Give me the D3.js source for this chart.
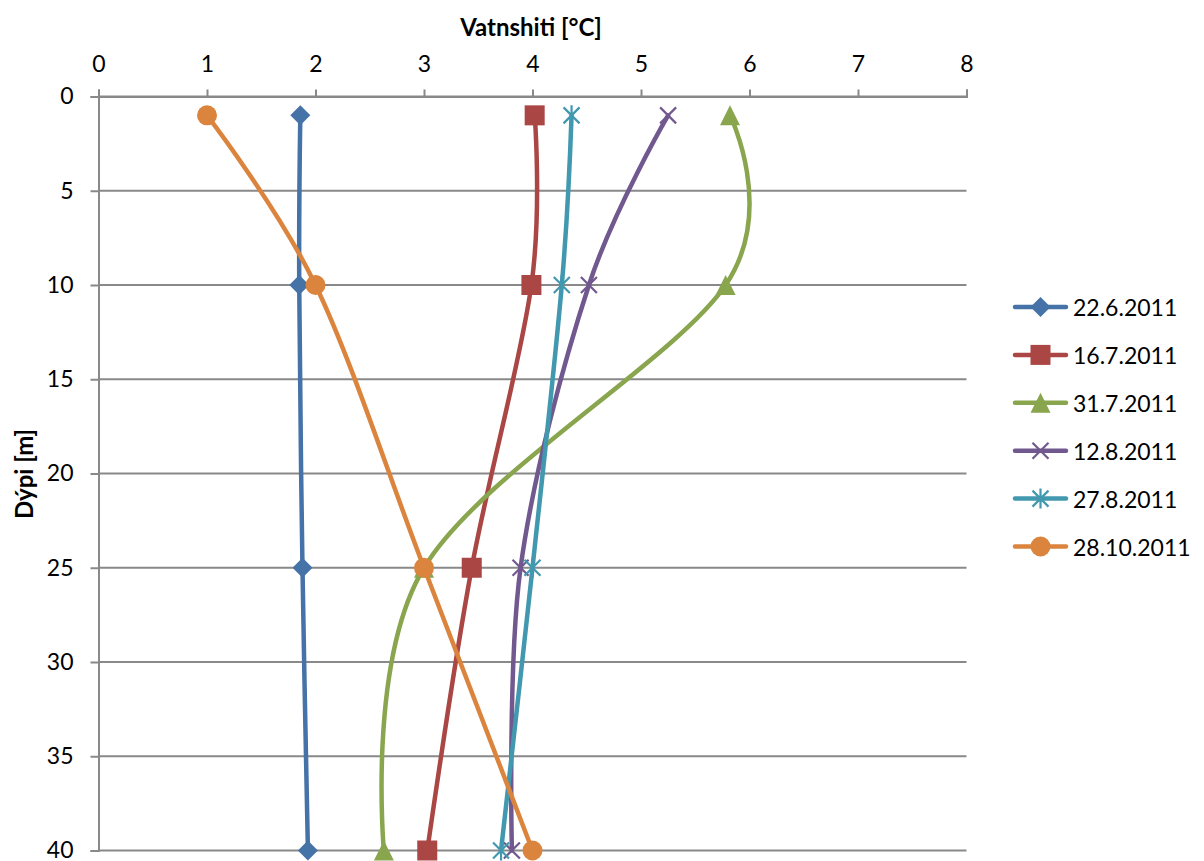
<!DOCTYPE html>
<html>
<head>
<meta charset="utf-8">
<script src="https://cdn.jsdelivr.net/npm/d3@7"></script>
<style>
  html, body { margin: 0; padding: 0; background: #ffffff; }
  svg { display: block; font-family: Lato, "Open Sans", sans-serif; }
</style>
</head>
<body>
<svg id="chart" width="1204" height="861"></svg>
<script>
// Temperature profiles: water temperature by depth for six sampling dates
const depths = [1, 10, 25, 40];
const seriesNames = ["22.6.2011", "16.7.2011", "31.7.2011", "12.8.2011", "27.8.2011", "28.10.2011"];
const temp_22_6  = [1.86, 1.85, 1.88, 1.93];
const temp_16_7  = [4.02, 3.99, 3.44, 3.03];
const temp_31_7  = [5.82, 5.78, 3.00, 2.63];
const temp_12_8  = [5.25, 4.52, 3.89, 3.81];
const temp_27_8  = [4.36, 4.27, 4.00, 3.71];
const temp_28_10 = [1.00, 2.00, 3.00, 4.00];
const seriesValues = [temp_22_6, temp_16_7, temp_31_7, temp_12_8, temp_27_8, temp_28_10];
const xTicks = [0, 1, 2, 3, 4, 5, 6, 7, 8];
const yTicks = [0, 5, 10, 15, 20, 25, 30, 35, 40];

const colors  = ["#4572A7", "#AA4643", "#89A54E", "#71588F", "#4198AF", "#DB843D"];
const markers = ["diamond", "square", "triangle", "x", "star", "circle"];

const svg = d3.select("#chart");
const plotLeft = 98.5, plotRight = 966.5, plotTop = 96.5, plotBottom = 850.5;

const x = d3.scaleLinear().domain([0, 8]).range([plotLeft, plotRight]);
const y = d3.scaleLinear().domain([0, 40]).range([plotTop, plotBottom]);

const gridColor = "#898989";
const labelSize = 23;

// horizontal gridlines
svg.append("g")
  .selectAll("line")
  .data(yTicks)
  .join("line")
  .attr("x1", plotLeft).attr("x2", plotRight)
  .attr("y1", d => y(d)).attr("y2", d => y(d))
  .attr("stroke", gridColor).attr("stroke-width", 2);

// top (temperature) axis
const xAxis = svg.append("g")
  .attr("transform", `translate(0,${plotTop})`)
  .call(d3.axisTop(x).tickValues(xTicks).tickSize(7).tickPadding(18).tickFormat(d3.format("d")));
xAxis.select(".domain").attr("stroke", gridColor).attr("stroke-width", 2);
xAxis.selectAll(".tick line").attr("stroke", gridColor).attr("stroke-width", 2);
xAxis.selectAll(".tick text").attr("font-size", labelSize).attr("fill", "#000").attr("font-family", "Lato");

// left (depth) axis
const yAxis = svg.append("g")
  .attr("transform", `translate(${plotLeft},0)`)
  .call(d3.axisLeft(y).tickValues(yTicks).tickSize(8).tickPadding(17).tickFormat(d3.format("d")));
yAxis.select(".domain").attr("stroke", gridColor).attr("stroke-width", 2);
yAxis.selectAll(".tick line").attr("stroke", gridColor).attr("stroke-width", 2);
yAxis.selectAll(".tick text").attr("font-size", labelSize).attr("fill", "#000").attr("font-family", "Lato");

// axis titles
svg.append("text")
  .attr("x", 531).attr("y", 36)
  .attr("text-anchor", "middle")
  .attr("font-size", 24).attr("font-weight", "bold")
  .text("Vatnshiti [°C]");

svg.append("text")
  .attr("transform", "translate(33,474) rotate(-90)")
  .attr("text-anchor", "middle")
  .attr("font-size", 24).attr("font-weight", "bold")
  .text("Dýpi [m]");

// marker drawing
function drawMarker(g, type, cx, cy, color) {
  const s = 10;
  if (type === "diamond") {
    g.append("path").attr("d", `M${cx},${cy - s}L${cx + s},${cy}L${cx},${cy + s}L${cx - s},${cy}Z`).attr("fill", color);
  } else if (type === "square") {
    g.append("rect").attr("x", cx - s).attr("y", cy - s).attr("width", 2 * s).attr("height", 2 * s).attr("fill", color);
  } else if (type === "triangle") {
    g.append("path").attr("d", `M${cx},${cy - s}L${cx + s},${cy + s}L${cx - s},${cy + s}Z`).attr("fill", color);
  } else if (type === "circle") {
    g.append("circle").attr("cx", cx).attr("cy", cy).attr("r", s).attr("fill", color);
  } else if (type === "x") {
    const k = 8;
    g.append("path").attr("d", `M${cx - k},${cy - k}L${cx + k},${cy + k}M${cx - k},${cy + k}L${cx + k},${cy - k}`)
      .attr("stroke", color).attr("stroke-width", 2.2).attr("fill", "none");
  } else if (type === "star") {
    const k = 8;
    g.append("path").attr("d", `M${cx - k},${cy - k}L${cx + k},${cy + k}M${cx - k},${cy + k}L${cx + k},${cy - k}M${cx},${cy - s}L${cx},${cy + s}`)
      .attr("stroke", color).attr("stroke-width", 2.2).attr("fill", "none");
  }
}

const line = d3.line()
  .x(d => x(d.t))
  .y(d => y(d.z))
  .curve(d3.curveCardinal.tension(0));

seriesNames.forEach((name, i) => {
  const pts = depths.map((z, j) => ({ z, t: seriesValues[i][j] }));
  const g = svg.append("g");
  g.append("path")
    .attr("d", line(pts))
    .attr("fill", "none")
    .attr("stroke", colors[i])
    .attr("stroke-width", 4.5)
    .attr("stroke-linejoin", "round")
    .attr("stroke-linecap", "round");
  pts.forEach(p => drawMarker(g, markers[i], x(p.t), y(p.z), colors[i]));
});

// legend
const legendTop = 307, legendStep = 47.9;
seriesNames.forEach((name, i) => {
  const ly = legendTop + i * legendStep;
  const g = svg.append("g");
  g.append("line")
    .attr("x1", 1015).attr("x2", 1066).attr("y1", ly).attr("y2", ly)
    .attr("stroke", colors[i]).attr("stroke-width", 4.5).attr("stroke-linecap", "round");
  drawMarker(g, markers[i], 1040.5, ly, colors[i]);
  g.append("text")
    .attr("x", 1073).attr("y", ly)
    .attr("dominant-baseline", "central")
    .attr("font-size", labelSize)
    .attr("fill", "#000")
    .text(name);
});
</script>
</body>
</html>
